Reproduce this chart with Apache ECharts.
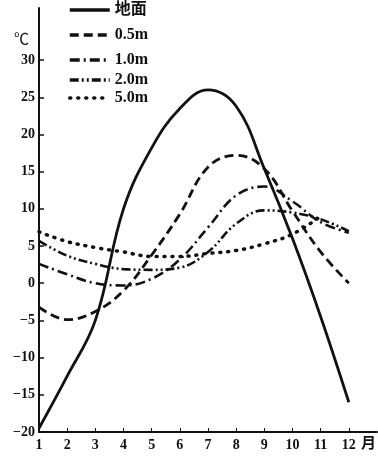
<!DOCTYPE html>
<html>
<head>
<meta charset="utf-8">
<script src="https://cdn.jsdelivr.net/npm/echarts@6/dist/echarts.min.js"></script>
<style>
html, body { margin: 0; background: #fff; }
#chart { width: 378px; height: 461px; }
</style>
</head>
<body>
<div id="chart"></div>
<script>
// 各深度土壤温度年变化 (℃)
var months = [1, 2, 3, 4, 5, 6, 7, 8, 9, 10, 11, 12];
var surface = [-19.5, -12.5, -5, 10, 18.2, 23.5, 26, 23.8, 15.4, 6, -4.5, -16];
var depth05 = [-3.2, -4.9, -3.8, -1.0, 3.8, 9.3, 15.6, 17.2, 15.4, 9.7, 4.2, 0];
var depth10 = [2.6, 1.2, 0, -0.3, 0.6, 3.2, 7.5, 11.8, 13, 11, 8.2, 6.8];
var depth20 = [5.7, 3.7, 2.6, 1.9, 1.8, 2.1, 4.2, 8, 9.8, 9.5, 8.6, 7];
var depth50 = [6.9, 5.6, 4.8, 4.2, 3.6, 3.6, 4.0, 4.4, 5.3, 6.6, 9, null];
var seriesNames = ['地面', '0.5m', '1.0m', '2.0m', '5.0m'];
var yTicks = [-20, -15, -10, -5, 0, 5, 10, 15, 20, 25, 30];

var ink = '#111';
var font = "'Liberation Serif', 'Noto Sans CJK SC', serif";

var values = [surface, depth05, depth10, depth20, depth50];
var dashes = ['solid', [9, 5], [10, 4, 2, 4], [9, 3, 2, 3, 2, 3], [1, 7]];
var widths = [2.8, 2.8, 2.6, 2.6, 3.5];
var legendTops = [2, 27, 52, 72, 90];

function pairs(arr) {
	var out = [];
	months.forEach(function (m, i) {
		if (arr[i] !== null) out.push([m, arr[i]]);
	});
	return out;
}

var chart = echarts.init(document.getElementById('chart'));
chart.setOption({
	animation: false,
	backgroundColor: '#fff',
	grid: { left: 39, right: 1, top: 8, bottom: 29 },
	legend: seriesNames.map(function (n, i) {
		return {
			data: [n],
			left: 68,
			top: legendTops[i],
			padding: 0,
			itemWidth: 40,
			itemHeight: 14,
			itemStyle: { opacity: 0 },
			lineStyle: { width: i === 4 ? 3.5 : 3.5, cap: i === 4 ? 'round' : 'butt' },
			textStyle: { color: ink, fontFamily: font, fontWeight: 'bold', fontSize: 16 }
		};
	}),
	xAxis: {
		type: 'value',
		min: 1,
		max: 13,
		interval: 1,
		axisLine: { onZero: false, lineStyle: { color: ink, width: 2 } },
		axisTick: { inside: true, length: 4, customValues: months, lineStyle: { color: ink } },
		axisLabel: { customValues: months, color: ink, fontFamily: font, fontWeight: 'bold', fontSize: 14, margin: 6 },
		splitLine: { show: false }
	},
	yAxis: {
		type: 'value',
		min: -20,
		max: 37,
		interval: 5,
		axisLine: { show: true, onZero: false, lineStyle: { color: ink, width: 2 } },
		axisTick: { show: true, inside: true, length: 5, customValues: yTicks, lineStyle: { color: ink, width: 1.5 } },
		axisLabel: {
			customValues: yTicks,
			color: ink, fontFamily: font, fontWeight: 'bold', fontSize: 14, margin: 4,
			formatter: function (v) { return String(v).replace('-', '−'); }
		},
		splitLine: { show: false }
	},
	graphic: [
		{ type: 'text', left: 14, top: 33, style: { text: '℃', fill: ink, font: '15px ' + font } },
		{ type: 'text', left: 361, top: 437, style: { text: '月', fill: ink, font: 'bold 15px ' + font } }
	],
	series: seriesNames.map(function (n, i) {
		return {
			name: n,
			type: 'line',
			smooth: 0.4,
			symbol: 'none',
			data: pairs(values[i]),
			itemStyle: { color: ink },
			lineStyle: { color: ink, width: widths[i], type: dashes[i], cap: i === 4 ? 'round' : 'butt' }
		};
	})
});
</script>
</body>
</html>
